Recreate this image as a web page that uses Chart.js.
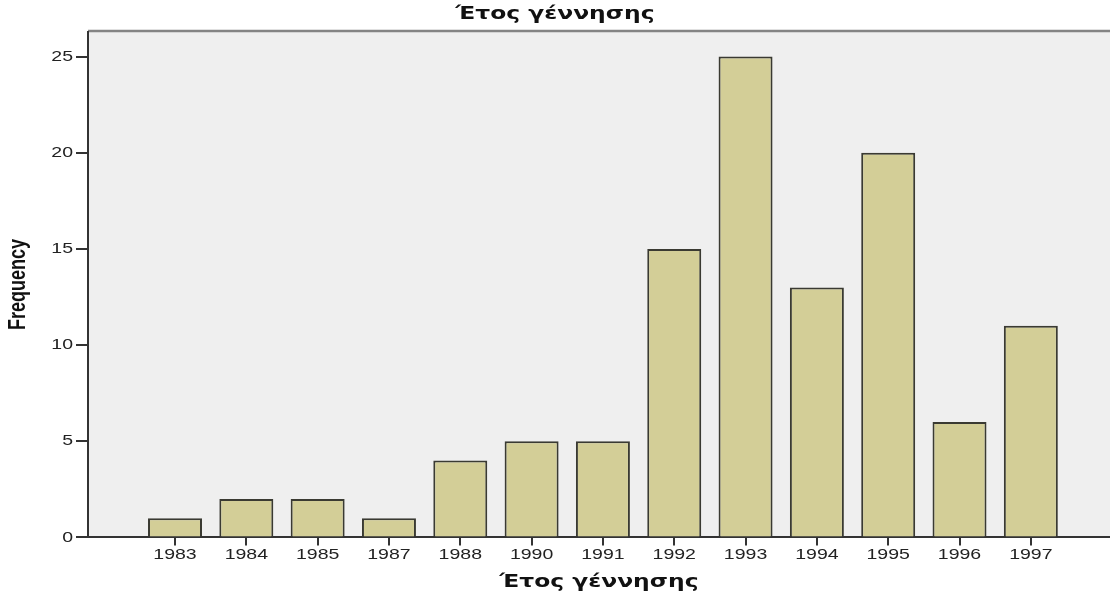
<!DOCTYPE html>
<html>
<head>
<meta charset="utf-8">
<script src="https://cdn.jsdelivr.net/npm/chart.js@4/dist/chart.umd.min.js"></script>
<style>
  html, body { margin: 0; padding: 0; background: #fff; }
  #wrap { width: 1110px; height: 599px; }
</style>
</head>
<body>
<div id="wrap"><canvas id="birth-chart"></canvas></div>
<script>
// years and counts
const years = ['1983', '1984', '1985', '1987', '1988', '1990', '1991', '1992', '1993', '1994', '1995', '1996', '1997'];
const freq = [1, 2, 2, 1, 4, 5, 5, 15, 25, 13, 20, 6, 11];
const yTicks = [0, 5, 10, 15, 20, 25];

const titleText = 'Έτος γέννησης';
const yTitle = 'Frequency';

// the original picture is stretched sideways, so text gets widened the same way
const stretch = 1.3;

// SPSS style plot frame, drawn under the axes
const plotBg = {
    id: 'plotBg',
    beforeDraw(chart) {
        const ctx = chart.ctx;
        const a = chart.chartArea;
        ctx.save();
        ctx.fillStyle = '#efefef';
        ctx.fillRect(a.left, a.top, a.right - a.left, a.bottom - a.top);
        ctx.strokeStyle = '#848484';
        ctx.lineWidth = 2.5;
        ctx.beginPath();
        ctx.moveTo(a.left, a.top - 0.5);
        ctx.lineTo(a.right, a.top - 0.5);
        ctx.stroke();
        ctx.restore();
    }
};

const data = {
    datasets: [{
        label: 'Frequency',
        data: freq.map((v, i) => ({x: i, y: v})),
        backgroundColor: '#d3ce97',
        borderColor: '#3a3a32',
        borderWidth: 2,
        barPercentage: 0.757,
        categoryPercentage: 1
    }]
};

const config = {
    type: 'bar',
    data,
    options: {
        responsive: true,
        maintainAspectRatio: false,
        animation: false,
        layout: { padding: 0 },
        plugins: {
            legend: { display: false },
            tooltip: { enabled: false },
            title: {
                display: true,
                text: titleText,
                color: '#111',
                font: { family: 'DejaVu Sans', size: 18, weight: 'bold' },
                padding: { top: 4, bottom: 6 }
            }
        },
        scales: {
            x: {
                type: 'linear',
                offset: false,
                min: -1.22,
                max: 13.11,
                afterBuildTicks: scale => {
                    scale.ticks = scale.ticks.filter(t => Number.isInteger(t.value) && t.value >= 0 && t.value < years.length);
                },
                ticks: {
                    stepSize: 1,
                    maxTicksLimit: 30,
                    autoSkip: false,
                    maxRotation: 0,
                    padding: 0,
                    color: '#222',
                    font: { family: 'Liberation Sans', size: 15 },
                    callback: v => years[v]
                },
                grid: { offset: false, drawOnChartArea: false, tickLength: 8, color: '#333', lineWidth: 2 },
                border: { display: true, color: '#333', width: 2 },
                title: {
                    display: true,
                    text: titleText,
                    color: '#111',
                    font: { family: 'DejaVu Sans', size: 18, weight: 'bold' },
                    padding: { top: 8, bottom: 6 }
                }
            },
            y: {
                min: 0,
                max: 26.3,
                afterBuildTicks: scale => {
                    scale.ticks = yTicks.map(v => ({value: v}));
                },
                afterFit: scale => { scale.width = 88; },
                ticks: {
                    stepSize: 5,
                    padding: 3,
                    color: '#222',
                    font: { family: 'Liberation Sans', size: 15 }
                },
                grid: { drawOnChartArea: false, tickLength: 12, color: '#333', lineWidth: 2 },
                border: { display: true, color: '#333', width: 2 },
                title: {
                    display: true,
                    text: yTitle,
                    color: '#111',
                    font: { family: 'Liberation Sans', size: 18, weight: 'bold' },
                    padding: { top: 8, bottom: 0 }
                }
            }
        }
    },
    plugins: [plotBg]
};

const ctx = document.getElementById('birth-chart').getContext('2d');
const baseFillText = ctx.fillText.bind(ctx);
ctx.fillText = function (text, x, y, maxWidth) {
    const m = ctx.getTransform();
    const rotated = Math.abs(m.b) > 0.5;
    ctx.save();
    ctx.translate(x, y);
    if (rotated) {
        ctx.scale(1, stretch);
    } else {
        ctx.scale(stretch, 1);
    }
    if (maxWidth === undefined) {
        baseFillText(text, 0, 0);
    } else {
        baseFillText(text, 0, 0, maxWidth);
    }
    ctx.restore();
};

var myChart = new Chart(ctx, config);
</script>
</body>
</html>
